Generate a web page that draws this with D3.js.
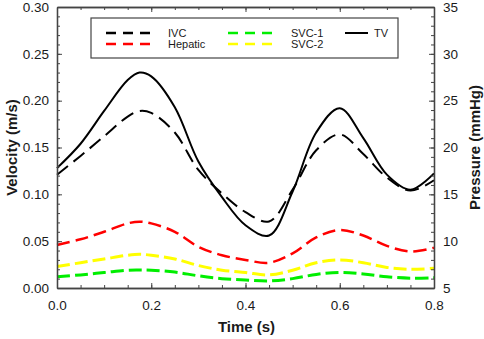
<!DOCTYPE html>
<html lang="en">
<head>
<meta charset="UTF-8">
<title>Velocity and Pressure</title>
<script src="https://d3js.org/d3.v7.min.js"></script>
<style>
  body, html { margin: 0; padding: 0; background: #fff; overflow: hidden; }
  svg text { font-family: Arial, "Liberation Sans", sans-serif; fill: #1a1a1a; }
</style>
</head>
<body>
<div id="chart"></div>
<script>
var time   = [0, 0.05, 0.1, 0.15, 0.175, 0.2, 0.25, 0.3, 0.35, 0.4, 0.45, 0.5, 0.55, 0.6, 0.65, 0.7, 0.75, 0.8];
var ivc    = [0.121, 0.141, 0.162, 0.183, 0.189, 0.187, 0.166, 0.126, 0.101, 0.081, 0.071, 0.105, 0.147, 0.164, 0.143, 0.118, 0.104, 0.115];
var hepatic= [0.046, 0.052, 0.060, 0.069, 0.0708, 0.069, 0.060, 0.044, 0.035, 0.030, 0.027, 0.037, 0.054, 0.062, 0.056, 0.045, 0.039, 0.043];
var svc1   = [0.012, 0.014, 0.0165, 0.019, 0.0192, 0.019, 0.017, 0.013, 0.010, 0.0085, 0.0075, 0.010, 0.0145, 0.0167, 0.015, 0.012, 0.0105, 0.011];
var svc2   = [0.023, 0.027, 0.031, 0.035, 0.036, 0.035, 0.031, 0.024, 0.019, 0.0165, 0.014, 0.019, 0.027, 0.030, 0.027, 0.022, 0.020, 0.021];
var tv     = [0.128, 0.154, 0.189, 0.222, 0.230, 0.226, 0.193, 0.135, 0.097, 0.067, 0.056, 0.103, 0.166, 0.192, 0.160, 0.121, 0.105, 0.1224];

var xTicks = [0, 0.2, 0.4, 0.6, 0.8];
var yTicks = [0, 0.05, 0.1, 0.15, 0.2, 0.25, 0.3];
var pTicks = [5, 10, 15, 20, 25, 30, 35];

var series = [
  {name: "IVC",     values: ivc,     color: "#000000", width: 2,   dash: "14,7"},
  {name: "Hepatic", values: hepatic, color: "#ff0000", width: 2.5, dash: "13,6"},
  {name: "SVC-1",   values: svc1,    color: "#00ee00", width: 3,   dash: "13,5"},
  {name: "SVC-2",   values: svc2,    color: "#ffff00", width: 3,   dash: "13,5"},
  {name: "TV",      values: tv,      color: "#000000", width: 2,   dash: null}
];

var W = 484, H = 339;
var margin = {top: 7, right: 50, bottom: 51, left: 57},
    width = W - margin.left - margin.right,
    height = H - margin.top - margin.bottom;

var svg = d3.select("#chart").append("svg")
    .attr("width", W).attr("height", H);
var g = svg.append("g")
    .attr("transform", "translate(" + margin.left + "," + margin.top + ")");

var x = d3.scaleLinear().domain([0, 0.8]).range([0, width]);
var y = d3.scaleLinear().domain([0, 0.3]).range([height, 0]);
var p = d3.scaleLinear().domain([5, 35]).range([height, 0]);

var axisColor = "#444";

// curves
var line = d3.line()
    .x(function(d) { return x(d[0]); })
    .y(function(d) { return y(d[1]); })
    .curve(d3.curveCatmullRom.alpha(0.5));

series.forEach(function(s) {
  g.append("path")
    .datum(time.map(function(t, i) { return [t, s.values[i]]; }))
    .attr("fill", "none")
    .attr("stroke", s.color)
    .attr("stroke-width", s.width)
    .attr("stroke-dasharray", s.dash)
    .attr("d", line);
});

// minor ticks
function styleAxis(sel) {
  sel.select(".domain").attr("stroke", axisColor).attr("stroke-width", 1.3);
  sel.selectAll(".tick line").attr("stroke", axisColor);
}
var xMinor = d3.range(0, 0.8001, 0.05);
var yMinor = d3.range(0, 0.3001, 0.01);
var pMinor = d3.range(5, 35.001, 1);

g.append("g").attr("transform", "translate(0," + height + ")")
  .call(d3.axisTop(x).tickValues(xMinor).tickSize(3).tickFormat("").tickSizeOuter(0)).call(styleAxis);
g.append("g")
  .call(d3.axisBottom(x).tickValues(xMinor).tickSize(3).tickFormat("").tickSizeOuter(0)).call(styleAxis);
g.append("g")
  .call(d3.axisRight(y).tickValues(yMinor).tickSize(3).tickFormat("").tickSizeOuter(0)).call(styleAxis);
g.append("g").attr("transform", "translate(" + width + ",0)")
  .call(d3.axisLeft(p).tickValues(pMinor).tickSize(3).tickFormat("").tickSizeOuter(0)).call(styleAxis);

// major ticks with labels
var xAxis = g.append("g").attr("transform", "translate(0," + height + ")")
  .call(d3.axisBottom(x).tickValues(xTicks).tickSize(-5).tickPadding(12).tickFormat(d3.format(".1f")).tickSizeOuter(0))
  .call(styleAxis);
var yAxis = g.append("g")
  .call(d3.axisLeft(y).tickValues(yTicks).tickSize(-5).tickPadding(8).tickFormat(d3.format(".2f")).tickSizeOuter(0))
  .call(styleAxis);
var pAxis = g.append("g").attr("transform", "translate(" + width + ",0)")
  .call(d3.axisRight(p).tickValues(pTicks).tickSize(-5).tickPadding(9).tickFormat(d3.format("d")).tickSizeOuter(0))
  .call(styleAxis);
g.append("g")
  .call(d3.axisTop(x).tickValues(xTicks).tickSize(-5).tickFormat("").tickSizeOuter(0))
  .call(styleAxis);

[xAxis, yAxis, pAxis].forEach(function(a) {
  a.selectAll(".tick text").style("font-size", "13.5px").attr("fill", "#1a1a1a");
});

// axis titles
svg.append("text")
  .attr("x", margin.left + width / 2 + 1).attr("y", 332)
  .attr("text-anchor", "middle")
  .style("font-size", "15px").style("font-weight", "bold")
  .text("Time (s)");
svg.append("text")
  .attr("transform", "translate(17," + (margin.top + height / 2) + ") rotate(-90)")
  .attr("text-anchor", "middle")
  .style("font-size", "15px").style("font-weight", "bold")
  .text("Velocity (m/s)");
svg.append("text")
  .attr("transform", "translate(480," + (margin.top + height / 2) + ") rotate(-90)")
  .attr("text-anchor", "middle")
  .style("font-size", "15px").style("font-weight", "bold")
  .text("Pressure (mmHg)");

// legend
var legend = svg.append("g");
legend.append("rect")
  .attr("x", 91).attr("y", 18).attr("width", 307).attr("height", 40)
  .attr("fill", "#fff").attr("stroke", axisColor).attr("stroke-width", 1.2);

var legendPos = [
  {x: 106, y: 33, len: 45, tx: 168},
  {x: 106, y: 44, len: 45, tx: 168},
  {x: 228, y: 33, len: 45, tx: 291},
  {x: 228, y: 44, len: 45, tx: 291},
  {x: 345, y: 33, len: 23, tx: 374}
];
series.forEach(function(s, i) {
  var lp = legendPos[i];
  legend.append("line")
    .attr("x1", lp.x).attr("x2", lp.x + lp.len)
    .attr("y1", lp.y).attr("y2", lp.y)
    .attr("stroke", s.color)
    .attr("stroke-width", s.dash ? 2.5 : 2)
    .attr("stroke-dasharray", s.dash ? "10,7" : null);
  legend.append("text")
    .attr("x", lp.tx).attr("y", lp.y + 4)
    .style("font-size", "11px")
    .text(s.name);
});
</script>
</body>
</html>
